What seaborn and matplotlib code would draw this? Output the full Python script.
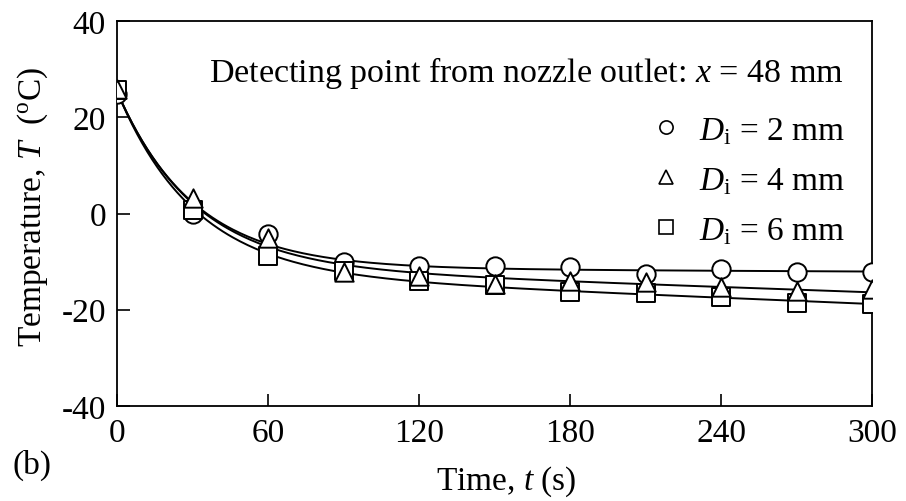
import numpy as np
import pandas as pd
import seaborn as sns
import matplotlib
matplotlib.use("Agg")
import matplotlib.pyplot as plt
from matplotlib.lines import Line2D

time_s = [0, 30, 60, 90, 120, 150, 180, 210, 240, 270, 300]
temp_d2 = [24.9, -0.2, -4.3, -10.1, -10.9, -10.9, -11.2, -12.6, -11.5, -12.2, -12.2]
temp_d4 = [25.9, 3.2, -5.0, -12.2, -12.9, -14.6, -14.0, -14.3, -15.3, -16.0, -15.7]
temp_d6 = [25.6, 0.8, -8.8, -12.0, -14.0, -14.8, -16.4, -16.5, -17.4, -18.6, -18.8]
series_labels = [r"$D_\mathrm{i}$ = 2 mm", r"$D_\mathrm{i}$ = 4 mm", r"$D_\mathrm{i}$ = 6 mm"]
series_markers = ["o", "^", "s"]
x_ticks = [0, 60, 120, 180, 240, 300]
y_ticks = [-40, -20, 0, 20, 40]

sns.set_theme(style="ticks")
plt.rcParams["font.family"] = ["Liberation Serif", "DejaVu Serif"]
plt.rcParams["mathtext.fontset"] = "custom"
plt.rcParams["mathtext.rm"] = "Liberation Serif"
plt.rcParams["mathtext.it"] = "Liberation Serif:italic"
plt.rcParams["axes.unicode_minus"] = False
for k in ["text.color", "axes.labelcolor", "xtick.color", "ytick.color", "axes.edgecolor"]:
    plt.rcParams[k] = "black"

all_series = [temp_d2, temp_d4, temp_d6]
rows = []
for lab, vals in zip(series_labels, all_series):
    for t, v in zip(time_s, vals):
        rows.append({"t": t, "T": v, "series": lab})
df = pd.DataFrame(rows)

# joint least-squares fit: T_k(t) = a_k + c_k t + (T0 - a_k) exp(-t/tau),
# shared T0 and tau (tau by grid search)
t_arr = np.asarray(time_s, float)
n = len(all_series)
y_all = np.concatenate([np.asarray(v, float) for v in all_series])

def design(t, tau):
    e = np.exp(-t / tau)
    blocks = []
    for k in range(n):
        cols = np.zeros((len(t), 1 + 2 * n))
        cols[:, 0] = e
        cols[:, 1 + 2 * k] = 1 - e
        cols[:, 2 + 2 * k] = t
        blocks.append(cols)
    return blocks

best = None
for tau in np.linspace(5, 120, 921):
    A = np.vstack(design(t_arr, tau))
    coef, *_ = np.linalg.lstsq(A, y_all, rcond=None)
    r = np.sum((A @ coef - y_all) ** 2)
    if best is None or r < best[0]:
        best = (r, tau, coef)
_, tau_b, coef_b = best

tt = np.linspace(0, 300, 301)
fit_rows = []
for k, (lab, blk) in enumerate(zip(series_labels, design(tt, tau_b))):
    yy = blk @ coef_b
    for a, b in zip(tt, yy):
        fit_rows.append({"t": a, "T": b, "series": lab})
fdf = pd.DataFrame(fit_rows)

fig = plt.figure(figsize=(9.06, 5.02), dpi=100)
ax = fig.add_axes([117 / 906, 1 - 407 / 502, 755 / 906, 385 / 502])

sns.lineplot(data=fdf, x="t", y="T", units="series", estimator=None,
             color="black", lw=1.4, ax=ax, legend=False, zorder=2)

for lab, m, z, s in zip(series_labels, series_markers, [3, 5, 4], [175, 175, 150]):
    sub = df[df["series"] == lab]
    sns.scatterplot(data=sub, x="t", y="T", marker=m, s=s,
                    facecolor="white", edgecolor="black", linewidth=1.4,
                    ax=ax, legend=False, zorder=z)

ax.set_xlim(0, 300)
ax.set_ylim(-40, 40)
ax.set_xticks(x_ticks)
ax.set_yticks(y_ticks)
ax.tick_params(direction="in", length=9, width=1.2, labelsize=24, pad=8,
               top=False, right=False, colors="black")
for sp in ax.spines.values():
    sp.set_linewidth(1.3)
    sp.set_color("black")
    sp.set_visible(True)

ax.set_xlabel(r"Time, $t$ (s)", fontsize=24)
ax.set_ylabel(r"Temperature, $T$  ($^{\mathrm{o}}$C)", fontsize=24)
ax.xaxis.set_label_coords((506 - 117) / 755, -(482 - 407) / 385)
ax.yaxis.set_label_coords(-(117 - 33) / 755, (407 - 207) / 385)
ax.xaxis.label.set_va("center")
ax.yaxis.label.set_va("center")

fig.text(843 / 906, 1 - 82 / 502, r"Detecting point from nozzle outlet: $x$ = 48 mm",
         ha="right", va="baseline", fontsize=24.5)

handles = [Line2D([], [], ls="none", marker=m, markersize=9.5, markerfacecolor="white",
                  markeredgecolor="black", markeredgewidth=1.2) for m in series_markers]
ax.legend(handles, series_labels, loc="upper right", frameon=False, fontsize=24,
          bbox_to_anchor=(845 / 906, 1 - 116 / 502), bbox_transform=fig.transFigure,
          handletextpad=0.5, labelspacing=0.58, handlelength=1.0, borderaxespad=0,
          borderpad=0)

fig.text(12 / 906, 1 - 465 / 502, "(b)", ha="left", va="center", fontsize=24)

fig.savefig("out.png", dpi=100, facecolor="white")
